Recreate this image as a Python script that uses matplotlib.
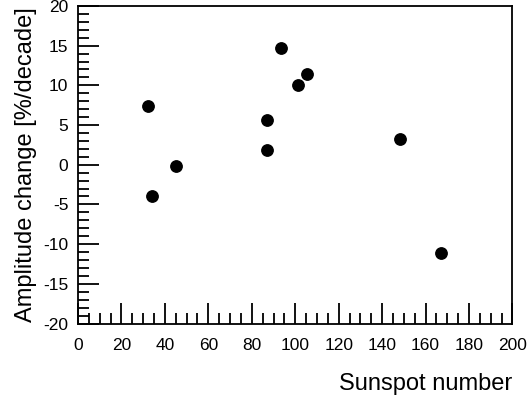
import numpy as np
import matplotlib
matplotlib.use('Agg')
import matplotlib.pyplot as plt
from matplotlib.ticker import MultipleLocator

plt.rcParams['font.family'] = ['Liberation Sans', 'DejaVu Sans']
plt.rcParams['axes.unicode_minus'] = False

sunspot = [32.1, 34.1, 45.1, 87.1, 87.1, 93.3, 101.3, 105.3, 148.2, 167.2]
amplitude = [7.4, -4.0, -0.2, 5.6, 1.9, 14.7, 10.0, 11.4, 3.2, -11.1]

fig = plt.figure(figsize=(5.28, 3.96), dpi=100)
ax = fig.add_axes([0.1477, 0.183, 0.8229, 0.802])

ax.plot(sunspot, amplitude, 'o', color='black', markersize=8.2, linestyle='none')

ax.set_xlim(0, 200)
ax.set_ylim(-20, 20)
ax.xaxis.set_major_locator(MultipleLocator(20))
ax.xaxis.set_minor_locator(MultipleLocator(5))
ax.yaxis.set_major_locator(MultipleLocator(5))
ax.yaxis.set_minor_locator(MultipleLocator(1))

ax.tick_params(which='both', direction='in', width=1.3, color='black')
ax.tick_params(which='major', length=15)
ax.tick_params(which='minor', length=8)
ax.tick_params(axis='x', which='major', pad=10.5, labelsize=12.5)
ax.tick_params(axis='y', which='major', pad=7, labelsize=12.5)

for s in ax.spines.values():
    s.set_linewidth(1.3)

ax.set_xlabel('Sunspot number', fontsize=17, loc='right', labelpad=14)
ax.set_ylabel('Amplitude change [%/decade]', fontsize=17, labelpad=4)

fig.savefig('out.png', dpi=100)
